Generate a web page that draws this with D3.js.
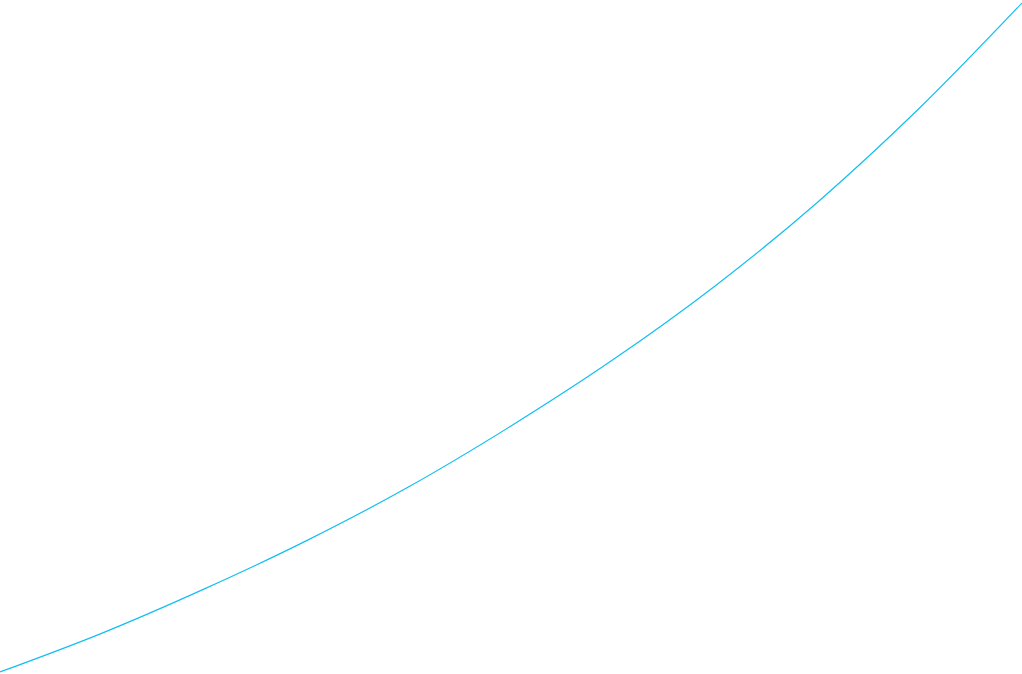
<!DOCTYPE html>
<html>
<head>
<meta charset="utf-8">
<script src="https://cdn.jsdelivr.net/npm/d3@7"></script>
<style>
  html, body { margin: 0; padding: 0; background: #fff; overflow: hidden; }
  svg { display: block; }
</style>
</head>
<body>
<script>
const xValues = [0, 1, 2, 3, 4, 5, 6, 7, 8, 9, 10];
const yValues = [0, 38.9, 83.1, 131.4, 185.2, 246.0, 312.4, 386.3, 469.8, 564.2, 669];

const width = 1022, height = 674;
const svg = d3.select("body").append("svg").attr("width", width).attr("height", height);

const x = d3.scaleLinear().domain([0, 10]).range([0, 1022]);
const y = d3.scaleLinear().domain([0, 669]).range([672, 3]);

const data = xValues.map((v, i) => ({ x: v, y: yValues[i] }));

const line = d3.line().x(d => x(d.x)).y(d => y(d.y)).curve(d3.curveMonotoneX);

svg.append("path")
  .datum(data)
  .attr("d", line)
  .attr("fill", "none")
  .attr("stroke", "#12bff0")
  .attr("stroke-width", 1.2);
</script>
</body>
</html>
